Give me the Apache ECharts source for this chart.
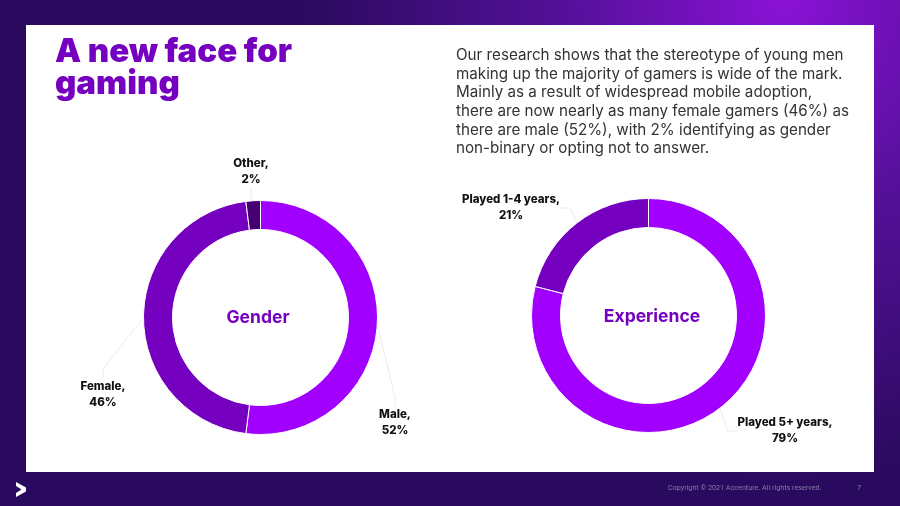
<!DOCTYPE html>
<html><head><meta charset="utf-8">
<script src="https://cdn.jsdelivr.net/npm/echarts@6/dist/echarts.min.js"></script>
<style>html,body{margin:0;padding:0;background:#2a0a5e;}#c{width:900px;height:506px;}</style>
</head><body><div id="c"></div>
<script>
// ---- data ----
const genderCategories = ['Male', 'Female', 'Other'];
const genderValues = [52, 46, 2];
const experienceCategories = ['Played 5+ years', 'Played 1-4 years'];
const experienceValues = [79, 21];
const chartTitle = 'A new face for\ngaming';
const bodyLines = [
  'Our research shows that the stereotype of young men',
  'making up the majority of gamers is wide of the mark.',
  'Mainly as a result of widespread mobile adoption,',
  'there are now nearly as many female gamers (46%) as',
  'there are male (52%), with 2% identifying as gender',
  'non-binary or opting not to answer.'
];
const donutNames = ['Gender', 'Experience'];
const footerText = 'Copyright \u00a9 2021 Accenture. All rights reserved.';
const pageNumber = '7';

// ---- style ----
const genderColors = ['#a100ff', '#7500c0', '#460073'];
const experienceColors = ['#a100ff', '#7500c0'];
const labelPos = {
  'Male': [395, 423], 'Female': [103, 395], 'Other': [251, 172],
  'Played 5+ years': [785, 431], 'Played 1-4 years': [511, 208]
};

const chart = echarts.init(document.getElementById('c'), null, {renderer: 'canvas'});

function pieSeries(cats, vals, colors, center) {
  return {
    type: 'pie',
    center: center,
    radius: [88, 117],
    startAngle: 90,
    clockwise: true,
    silent: true,
    itemStyle: {borderColor: '#ffffff', borderWidth: 1},
    data: cats.map((c, i) => ({name: c, value: vals[i], itemStyle: {color: colors[i]}})),
    label: {
      show: true,
      position: 'outside',
      formatter: p => p.name + ',\n' + p.value + '%',
      color: '#111',
      fontFamily: 'Inter',
      fontWeight: 800,
      fontSize: 11.5,
      lineHeight: 16,
      align: 'center'
    },
    labelLine: {show: true, length: 10, length2: 10, lineStyle: {color: '#ececec', width: 1}},
    labelLayout: p => {
      const pos = labelPos[p.text.split(',')[0]];
      return {x: pos[0], y: pos[1], align: 'center', verticalAlign: 'middle'};
    }
  };
}

chart.setOption({
  backgroundColor: new echarts.graphic.RadialGradient(0.87, 0, 0.95, [
    {offset: 0, color: '#8a12d6'},
    {offset: 0.45, color: '#55109a'},
    {offset: 1, color: '#2a0a5e'}
  ]),
  animation: false,
  graphic: [
    {type: 'rect', z: 0, shape: {x: 26, y: 25, width: 848, height: 447}, style: {fill: '#ffffff'}},
    {type: 'polygon', z: 0, shape: {points: [[16, 482], [26, 487.5], [26, 491.5], [16, 497], [16, 493], [21.5, 489.5], [16, 486]]}, style: {fill: '#ffffff'}}
  ],
  title: [
    {text: chartTitle, left: 55, top: 36, padding: 0,
     textStyle: {fontFamily: 'Inter', fontWeight: 900, fontSize: 33, lineHeight: 32, color: '#7500c0'}},
    {text: bodyLines.join('\n'), left: 456, top: 46, padding: 0,
     textStyle: {fontFamily: 'Inter', fontWeight: 'normal', fontSize: 15.2, lineHeight: 18.7, color: '#333333'}},
    {text: donutNames[0], left: 258, top: 318, textAlign: 'center', textVerticalAlign: 'middle', padding: 0,
     textStyle: {fontFamily: 'Inter', fontWeight: 'bold', fontSize: 17.5, color: '#7500c0'}},
    {text: donutNames[1], left: 652, top: 317, textAlign: 'center', textVerticalAlign: 'middle', padding: 0,
     textStyle: {fontFamily: 'Inter', fontWeight: 'bold', fontSize: 17.5, color: '#7500c0'}},
    {text: footerText, left: 668, top: 485, padding: 0,
     textStyle: {fontFamily: 'Roboto', fontWeight: 'normal', fontSize: 7.2, color: '#857aa6'}},
    {text: pageNumber, left: 857, top: 485, padding: 0,
     textStyle: {fontFamily: 'Roboto', fontWeight: 'normal', fontSize: 7.2, color: '#857aa6'}}
  ],
  series: [
    pieSeries(genderCategories, genderValues, genderColors, [260.5, 317.5]),
    pieSeries(experienceCategories, experienceValues, experienceColors, [648.5, 315.5])
  ]
});
</script>
</body></html>
